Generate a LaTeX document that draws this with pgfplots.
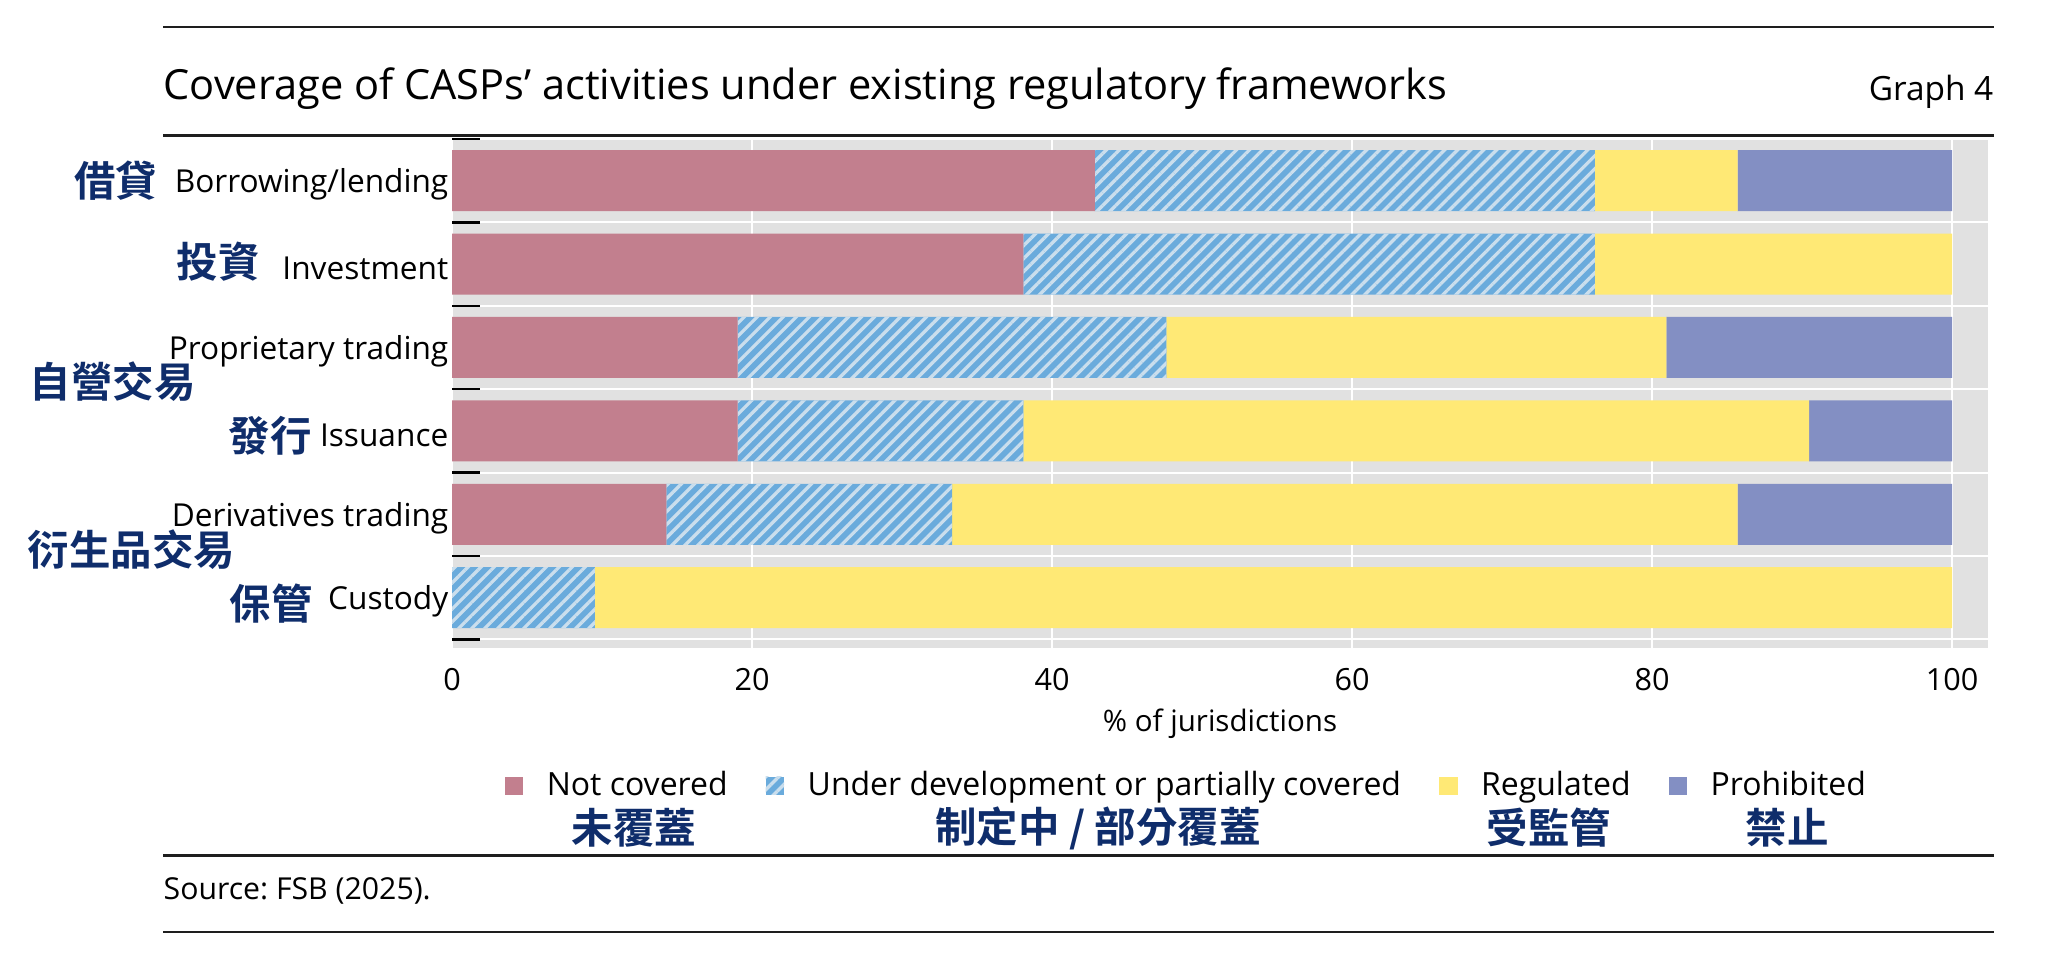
\documentclass[border=0pt]{standalone}
\usepackage{fontspec}
\setmainfont{Open Sans}
\newfontfamily\cjkb{Noto Sans CJK TC Bold}
\usepackage{pgfplots}
\pgfplotsset{compat=1.18}
\usetikzlibrary{patterns.meta}
\frenchspacing
\definecolor{redc}{RGB}{194,127,142}
\definecolor{hatchblue}{RGB}{106,171,220}
\definecolor{hatchlight}{RGB}{202,222,237}
\definecolor{yellowc}{RGB}{255,233,117}
\definecolor{purplec}{RGB}{131,143,195}
\definecolor{panel}{RGB}{225,225,225}
\definecolor{navy}{RGB}{15,45,107}
\definecolor{rulec}{RGB}{30,30,30}
\begin{document}
\begin{tikzpicture}
\useasboundingbox (0,0) rectangle (20.48,9.57);
\fill[white] (0,0) rectangle (20.48,9.57);
\draw[line width=0.025cm, rulec] (1.63,9.30) -- (19.94,9.30);
\node[anchor=base west, inner sep=0, font=\fontsize{11.82}{14}\selectfont] at (1.63,8.58) {Coverage of CASPs’ activities under existing regulatory frameworks};
\node[anchor=base east, inner sep=0, font=\fontsize{9.5}{12}\selectfont] at (19.94,8.57) {Graph 4};
\draw[line width=0.03cm, rulec] (1.63,8.22) -- (19.94,8.22);
\begin{axis}[
  at={(4.52cm,3.09cm)}, anchor=south west,
  scale only axis, width=15.36cm, height=5.09cm,
  xbar stacked, bar width=0.61cm,
  xmin=0, xmax=102.4, ymin=-0.604, ymax=5.5,
  axis background/.style={fill=panel},
  axis line style={draw=none},
  xtick={0,20,40,60,80,100},
  xmajorgrids=true, ymajorgrids=false,
  major grid style={white, line width=0.02cm},
  major tick length=0pt,
  tick align=inside,
  ytick pos=left, xtick pos=bottom,
  ytick={0,1,2,3,4,5},
  yticklabels={Custody,Derivatives trading,Issuance,Proprietary trading,Investment,Borrowing/lending},
  extra y ticks={-0.5,0.5,1.5,2.5,3.5,4.5,5.5},
  extra y tick labels={},
  extra y tick style={grid=major, major tick length=0.28cm, tick style={draw=black, line width=0.025cm}},
  /pgf/number format/assume math mode=true,
  xticklabel style={font=\fontsize{8.7}{10}\selectfont, anchor=base, yshift=-0.42cm},
  yticklabel style={font=\fontsize{9}{11}\selectfont, inner xsep=0pt, xshift=-0.03cm, yshift=-0.04cm},
  xlabel={\% of jurisdictions},
  every axis x label/.style={at={(axis description cs:0.5,-0.1644)}, anchor=base, font=\fontsize{8.4}{10}\selectfont},
  legend columns=4,
  legend style={at={(axis description cs:0.0339,-0.271)}, anchor=west, draw=none, fill=none, inner sep=0pt,
    font=\fontsize{9.1}{11}\selectfont, column sep=0.165cm,
    /tikz/every even column/.append style={column sep=0.31cm}},
  legend image code/.code={\path[#1,draw=none] (0cm,-0.09cm) rectangle (0.185cm,0.09cm);},
]
\addplot[fill=redc, draw=none] coordinates {(0,0) (14.286,1) (19.048,2) (19.048,3) (38.095,4) (42.857,5)};
\addlegendentry{Not covered}
\addplot[fill=hatchblue, draw=none, postaction={pattern={Lines[angle=45,distance=0.092cm,line width=0.033cm]}, pattern color=hatchlight}] coordinates {(9.524,0) (19.048,1) (19.048,2) (28.571,3) (38.095,4) (33.333,5)};
\addlegendentry{Under development or partially covered}
\addplot[fill=yellowc, draw=none] coordinates {(90.476,0) (52.381,1) (52.381,2) (33.333,3) (23.810,4) (9.524,5)};
\addlegendentry{Regulated}
\addplot[fill=purplec, draw=none] coordinates {(0,0) (14.286,1) (9.524,2) (19.048,3) (0,4) (14.286,5)};
\addlegendentry{Prohibited}
\end{axis}
\begin{scope}[every node/.style={inner sep=0pt, text=navy, font=\cjkb\fontsize{11.8}{14}\selectfont}]
\node[anchor=west] at (0.737,7.76) {借貸};
\node[anchor=west] at (1.76,6.95) {投資};
\node[anchor=west] at (0.29,5.75) {自營交易};
\node[anchor=west] at (2.28,5.21) {發行};
\node[anchor=west] at (0.27,4.07) {衍生品交易};
\node[anchor=west] at (2.29,3.53) {保管};
\node at (6.34,1.29) {未覆蓋};
\node at (10.98,1.29) {制定中 / 部分覆蓋};
\node at (15.49,1.29) {受監管};
\node at (17.87,1.29) {禁止};
\end{scope}
\draw[line width=0.03cm, rulec] (1.63,1.02) -- (19.94,1.02);
\node[anchor=base west, inner sep=0, font=\fontsize{8.6}{10}\selectfont] at (1.63,0.58) {Source: FSB (2025).};
\draw[line width=0.025cm, rulec] (1.63,0.25) -- (19.94,0.25);
\end{tikzpicture}
\end{document}
